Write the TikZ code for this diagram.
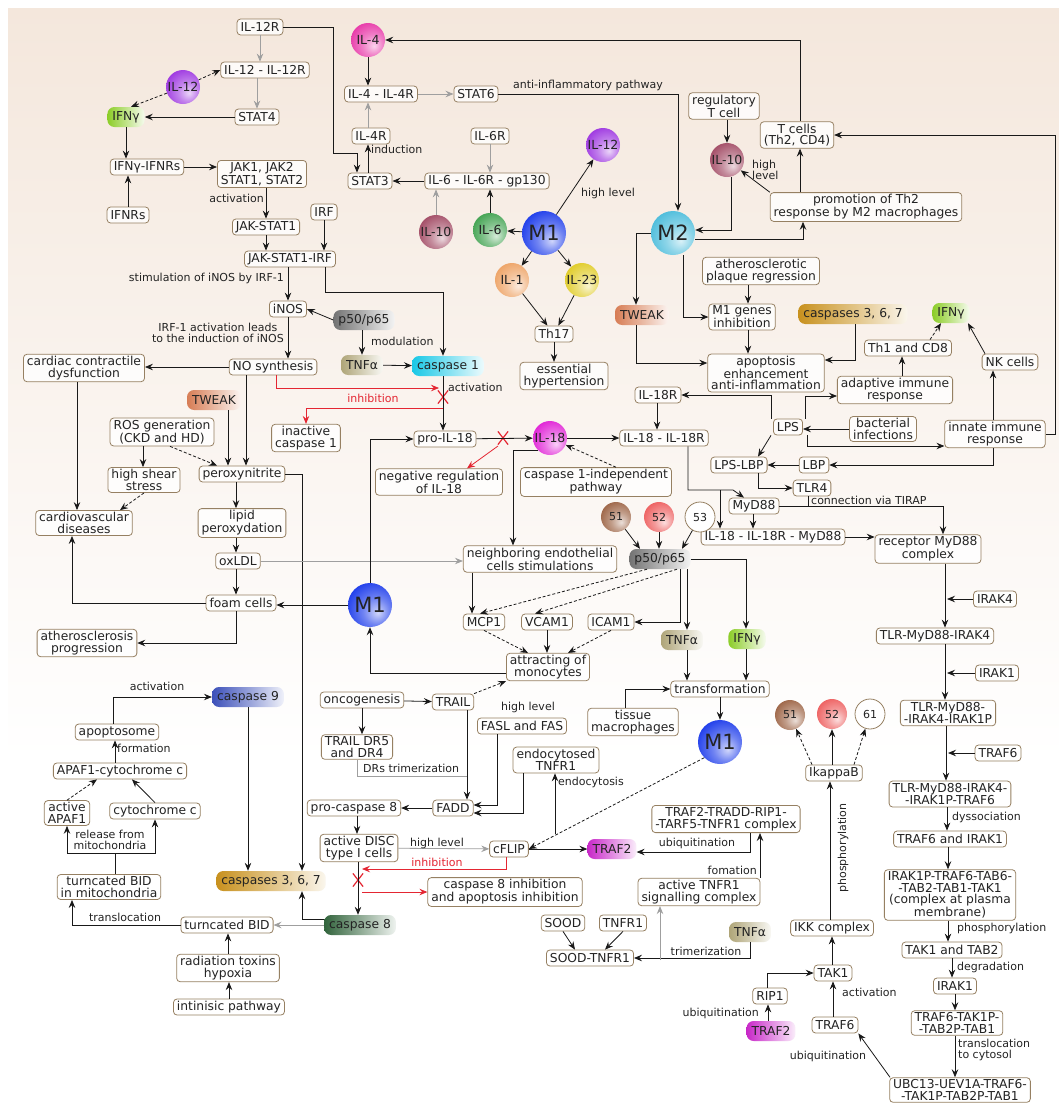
\documentclass[tikz,border=0pt]{standalone}
\usepackage{fontspec}
\setmainfont{DejaVu Sans}
\usetikzlibrary{arrows.meta,shapes.misc}
\definecolor{bxc}{RGB}{150,128,98}
\definecolor{txc}{RGB}{35,35,35}
\definecolor{lnc}{RGB}{25,25,25}
\definecolor{rdc}{RGB}{228,38,50}
\definecolor{bgtop}{RGB}{244,231,220}
\definecolor{cm1}{RGB}{35,65,235}
\definecolor{cm2}{RGB}{80,190,220}
\definecolor{cil4}{RGB}{232,60,170}
\definecolor{cil12}{RGB}{160,60,225}
\definecolor{cil10}{RGB}{165,80,105}
\definecolor{cil6}{RGB}{70,165,85}
\definecolor{cil1}{RGB}{238,165,105}
\definecolor{cil23}{RGB}{225,205,45}
\definecolor{cil18}{RGB}{225,40,215}
\definecolor{c51}{RGB}{160,105,75}
\definecolor{c52}{RGB}{238,100,100}
\definecolor{cifn}{RGB}{140,205,40}
\definecolor{ctwk}{RGB}{215,125,85}
\definecolor{cp65}{RGB}{115,115,115}
\definecolor{ctnf}{RGB}{175,165,120}
\definecolor{ccs1}{RGB}{25,200,230}
\definecolor{ccs3}{RGB}{200,145,30}
\definecolor{ccs9}{RGB}{60,80,185}
\definecolor{ccs8}{RGB}{50,100,60}
\definecolor{ctrf}{RGB}{200,40,200}
\newcommand{\bxf}{\fontsize{12.3}{11.5}\selectfont}
\newcommand{\lbf}{\fontsize{11}{10.5}\selectfont}
\newcommand{\blf}{\fontsize{12.5}{12}\selectfont}
\newcommand{\bigmf}{\fontsize{21}{21}\selectfont}
\colorlet{glowc}{blue}
\pgfdeclareradialshading[glowc]{glow}{\pgfpoint{9bp}{-9bp}}{color(0bp)=(glowc!22);color(15bp)=(glowc!65);color(32bp)=(glowc);color(70bp)=(glowc)}
\tikzset{
  >={Stealth[length=8pt,width=6.5pt,inset=2.8pt]},
  bx/.style={draw=bxc, line width=0.8pt, rounded corners=3.5pt, fill=white, fill opacity=0.8, text opacity=1, text=txc, align=center, inner xsep=3.5pt, inner ysep=2pt, minimum height=16pt, font=\bxf},
  pl/.style={rounded corners=7pt, left color=#1, right color=#1!8, middle color=#1!55, text=txc, inner xsep=5pt, inner ysep=2pt, minimum height=20pt, font=\bxf},
  bl/.style={circle, /utils/exec={\colorlet{glowc}{#1}}, shade, shading=glow, inner sep=0pt, minimum size=34pt, text=txc, font=\blf},
  sbl/.style={bl=#1, minimum size=30pt, font=\lbf},
  bbl/.style={bl=#1, minimum size=44pt, font=\bigmf},
  wc/.style={circle, draw=bxc, line width=0.8pt, fill=white, inner sep=0pt, minimum size=30pt, text=txc, font=\lbf},
  xx/.style={cross out, draw=rdc, line width=1.2pt, minimum width=9pt, minimum height=12pt, inner sep=0pt},
  lb/.style={font=\lbf, text=txc, inner sep=1pt, align=center},
  ar/.style={draw=lnc, line width=0.8pt, ->},
  ag/.style={draw=gray!75, line width=0.8pt, ->},
  ad/.style={ar, densely dashed},
  ared/.style={draw=rdc, line width=0.8pt, ->}
}
\begin{document}
\begin{tikzpicture}[x=1pt,y=-1pt]
\useasboundingbox (0,0) rectangle (1059,1106);
\fill[white] (0,0) rectangle (1059,1106);
\shade[top color=bgtop, bottom color=white] (8,8) rectangle (1059,760);

% interferon branch
\node[bx] (il12r) at (260,27) {IL-12R};
\node[bx] (il12cx) at (265,70) {IL-12 - IL-12R};
\node[bl=cil12] (il12a) at (183,87) {IL-12};
\node[pl=cifn] (ifnga) at (126,117) {IFNγ};
\node[bx] (stat4) at (257,117) {STAT4};
\node[bx] (ifnrs) at (147,167) {IFNγ-IFNRs};
\node[bx] (jak) at (262,174) {JAK1, JAK2\\STAT1, STAT2};
\node[bx] (ifnr) at (128,215) {IFNRs};
\node[bx] (irf) at (324,212) {IRF};
\node[bx] (jakst) at (266,227) {JAK-STAT1};
\node[bx] (jsirf) at (290,259) {JAK-STAT1-IRF};

% IL-4 and IL-6 branch
\node[bl=cil4] (il4) at (368,40) {IL-4};
\node[bx] (il4cx) at (381,94) {IL-4 - IL-4R};
\node[bx] (stat6) at (476,94) {STAT6};
\node[bx] (il4r) at (371,136) {IL-4R};
\node[bx] (stat3) at (370,181) {STAT3};
\node[bx] (il6r) at (490,136) {IL-6R};
\node[bx] (gp130) at (487,181) {IL-6 - IL-6R - gp130};
\node[bl=cil12] (il12b) at (603,145) {IL-12};
\node[bl=cil10] (il10a) at (436,232) {IL-10};
\node[bl=cil6] (il6) at (490,230) {IL-6};
\node[bbl=cm1] (m1a) at (544,233) {M1};
\node[bl=cil1] (il1) at (512,280) {IL-1};
\node[bl=cil23] (il23) at (582,280) {IL-23};
\node[bx] (th17) at (554,334) {Th17};
\node[bx] (ehyp) at (564,376) {essential\\hypertension};

% M2 branch
\node[bbl=cm2] (m2) at (673,233) {M2};
\node[bx] (regt) at (724,106) {regulatory\\T cell};
\node[bx] (tcell) at (797,135) {T cells\\(Th2, CD4)};
\node[bl=cil10] (il10b) at (727,160) {IL-10};
\node[bx] (promo) at (866,207) {promotion of Th2\\response by M2 macrophages};
\node[bx] (plaque) at (761,271) {atherosclerotic\\plaque regression};
\node[pl=ctwk] (tweakb) at (642,315) {TWEAK};
\node[bx] (m1gen) at (742,317) {M1 genes\\inhibition};
\node[pl=ccs3] (casp3a) at (853,314) {caspases 3, 6, 7};
\node[pl=cifn] (ifngb) at (951,313) {IFNγ};
\node[bx] (th1) at (908,348) {Th1 and CD8};
\node[bx] (nk) at (1010,362) {NK cells};
\node[bx] (apop) at (766,373) {apoptosis\\enhancement\\anti-inflammation};
\node[bx] (adapt) at (895,390) {adaptive immune\\response};
\node[bx] (il18r) at (658,395) {IL-18R};
\node[bx] (lps) at (788,427) {LPS};
\node[bx] (bact) at (883,429) {bacterial\\infections};
\node[bx] (innate) at (995,434) {innate immune\\response};
\node[bx] (il18cx) at (664,438) {IL-18 - IL-18R};
\node[bx] (lpslbp) at (739,465) {LPS-LBP};
\node[bx] (lbp) at (814,465) {LBP};
\node[bx] (tlr4) at (812,488) {TLR4};
\node[bx] (myd88) at (754,506) {MyD88};
\node[bx] (il18my) at (773,537) {IL-18 - IL-18R - MyD88};
\node[bx] (recmy) at (928,549) {receptor MyD88\\complex};

% NO and atherosclerosis
\node[bx] (inos) at (288,309) {iNOS};
\node[pl=cp65] (p65a) at (364,320) {p50/p65};
\node[pl=ctnf] (tnfa) at (362,365) {TNFα};
\node[pl=ccs1] (casp1) at (448,366) {caspase 1};
\node[bx] (nosyn) at (273,367) {NO synthesis};
\node[bx] (cardiac) at (84,368) {cardiac contractile\\dysfunction};
\node[pl=ctwk] (tweaka) at (214,400) {TWEAK};
\node[bx] (inact) at (306,438) {inactive\\caspase 1};
\node[bx] (ros) at (162,432) {ROS generation\\(CKD and HD)};
\node[bx] (shear) at (144,480) {high shear\\stress};
\node[bx] (perox) at (242,474) {peroxynitrite};
\node[bx] (cvd) at (84,523) {cardiovascular\\diseases};
\node[bx] (lipid) at (242,523) {lipid\\peroxydation};
\node[bx] (oxldl) at (238,561) {oxLDL};
\node[bx] (foam) at (241,603) {foam cells};
\node[bx] (athero) at (87,643) {atherosclerosis\\progression};

% IL-18 and NF-kB
\node[bx] (proil18) at (445,439) {pro-IL-18};
\node[bl=cil18] (il18) at (550,438) {IL-18};
\node[bx] (negreg) at (439,482) {negative regulation\\of IL-18};
\node[bx] (c1ind) at (596,482) {caspase 1-independent\\pathway};
\node[sbl=c51] (n51a) at (616,517) {51};
\node[sbl=c52] (n52a) at (659,517) {52};
\node[wc] (n53) at (700,517) {53};
\node[bx] (neigh) at (540,559) {neighboring endothelial\\cells stimulations};
\node[pl=cp65] (p65b) at (660,559) {p50/p65};
\node[bbl=cm1] (m1b) at (370,605) {M1};
\node[bx] (mcp1) at (484,622) {MCP1};
\node[bx] (vcam) at (547,622) {VCAM1};
\node[bx] (icam) at (611,622) {ICAM1};
\node[pl=ctnf] (tnfb) at (682,640) {TNFα};
\node[pl=cifn] (ifngc) at (747,639) {IFNγ};
\node[bx] (attr) at (548,667) {attracting of\\monocytes};
\node[bx] (transf) at (720,689) {transformation};
\node[bx] (tissue) at (633,722) {tissue\\macrophages};
\node[bbl=cm1] (m1c) at (720,742) {M1};

% intrinsic apoptosis
\node[pl=ccs9] (casp9) at (248,697) {caspase 9};
\node[bx] (apsome) at (117,732) {apoptosome};
\node[bx] (apaf) at (120,771) {APAF1-cytochrome c};
\node[bx] (aapaf) at (67,813) {active\\APAF1};
\node[bx] (cytc) at (155,811) {cytochrome c};
\node[bx] (bidm) at (109,887) {turncated BID\\in mitochondria};
\node[pl=ccs3] (casp3b) at (271,881) {caspases 3, 6, 7};
\node[bx] (bid) at (227,925) {turncated BID};
\node[pl=ccs8] (casp8) at (360,925) {caspase 8};
\node[bx] (rad) at (228,968) {radiation toxins\\hypoxia};
\node[bx] (intr) at (229,1007) {intinisic pathway};

% extrinsic apoptosis
\node[bx] (oncog) at (362,700) {oncogenesis};
\node[bx] (trail) at (453,702) {TRAIL};
\node[bx] (trdr) at (357,747) {TRAIL DR5\\and DR4};
\node[bx] (fasl) at (522,726) {FASL and FAS};
\node[bx] (endo) at (556,760) {endocytosed\\TNFR1};
\node[bx] (procasp8) at (354,808) {pro-caspase 8};
\node[bx] (fadd) at (453,808) {FADD};
\node[bx] (disc) at (359,848) {active DISC\\type I cells};
\node[bx] (cflip) at (509,849) {cFLIP};
\node[pl=ctrf] (traf2a) at (612,849) {TRAF2};
\node[bx] (tradd) at (726,819) {TRAF2-TRADD-RIP1-\\-TARF5-TNFR1 complex};
\node[bx] (c8inh) at (505,892) {caspase 8 inhibition\\and apoptosis inhibition};
\node[bx] (atnfr) at (699,892) {active TNFR1\\signalling complex};
\node[bx] (sood) at (563,923) {SOOD};
\node[bx] (tnfr1) at (623,923) {TNFR1};
\node[bx] (soodt) at (590,958) {SOOD-TNFR1};
\node[pl=ctnf] (tnfc) at (750,932) {TNFα};
\coordinate (endoc) at (555,834);

% IKK and TAK1
\node[sbl=c51] (n51b) at (790,715) {51};
\node[sbl=c52] (n52b) at (832,714) {52};
\node[wc] (n61) at (870,714) {61};
\node[bx] (ikb) at (834,773) {IkappaB};
\node[bx] (ikk) at (832,928) {IKK complex};
\node[bx] (tak1) at (833,973) {TAK1};
\node[bx] (rip1) at (770,996) {RIP1};
\node[pl=ctrf] (traf2b) at (771,1031) {TRAF2};
\node[bx] (traf6a) at (835,1025) {TRAF6};
\node[bx] (ubc) at (960,1090) {UBC13-UEV1A-TRAF6-\\-TAK1P-TAB2P-TAB1};

% MyD88 cascade
\node[bx] (irak4) at (995,599) {IRAK4};
\node[bx] (tmi4) at (935,636) {TLR-MyD88-IRAK4};
\node[bx] (irak1a) at (997,673) {IRAK1};
\node[bx] (tmi1) at (948,713) {TLR-MyD88-\\-IRAK4-IRAK1P};
\node[bx] (traf6b) at (998,753) {TRAF6};
\node[bx] (tmi6) at (950,794) {TLR-MyD88-IRAK4-\\-IRAK1P-TRAF6};
\node[bx] (t6i1) at (950,839) {TRAF6 and IRAK1};
\node[bx] (irakx) at (950,895) {IRAK1P-TRAF6-TAB6-\\-TAB2-TAB1-TAK1\\(complex at plasma\\membrane)};
\node[bx] (tak2) at (952,950) {TAK1 and TAB2};
\node[bx] (irak1b) at (955,986) {IRAK1};
\node[bx] (t6tak) at (957,1023) {TRAF6-TAK1P-\\-TAB2P-TAB1};

% red crosses
\node[xx] (xa) at (443,397) {};
\node[xx] (xb) at (503,438) {};
\node[xx] (xc) at (358,880) {};

% links, interferon branch
\draw[ag] (il12r) -- (il12r |- il12cx.north);
\draw[ad] (il12a) -- (il12cx.west);
\draw[ad] (il12a) -- ([xshift=5pt]ifnga.north);
\draw[ag] (stat4 |- il12cx.south) -- (stat4);
\draw[ar] (stat4) -- (ifnga);
\draw[ar] (ifnga) -- (ifnga |- ifnrs.north);
\draw[ar] (ifnr) -- (ifnr |- ifnrs.south);
\draw[ar] (ifnrs.east) -- (ifnrs.east -| jak.west);
\draw[ar] (jakst |- jak.south) -- (jakst);
\draw[ar] (jakst) -- (jakst |- jsirf.north);
\draw[ar] (irf) -- (irf |- jsirf.north);
\draw[ar] (il12r.east) -| (333,153) -| ([xshift=-13pt]stat3.north);
\draw[ar] (inos |- jsirf.south) -- (inos);
\draw[ar] (325,0 |- jsirf.south) |- (443,292) -- (443,0 |- casp1.north);

% links, IL-4 and IL-6
\draw[ar] (il4) -- (il4 |- il4cx.north);
\draw[ag] (il4cx) -- (stat6);
\draw[ar] (stat6.east) -| ([xshift=5pt]m2.north);
\draw[ag] (368,0 |- il4r.north) -- (368,0 |- il4cx.south);
\draw[ar] (368,0 |- stat3.north) -- (368,0 |- il4r.south);
\draw[ag] (il6r) -- (il6r |- gp130.north);
\draw[ar] (gp130) -- (stat3);
\draw[ag] (il10a) -- (il10a |- gp130.south);
\draw[ar] (il6) -- (il6 |- gp130.south);
\draw[ar] (m1a) -- (il6);
\draw[ar] (m1a) -- (il12b);
\draw[ar] (m1a) -- (il1);
\draw[ar] (m1a) -- (il23);
\draw[ar] (il1) -- (th17);
\draw[ar] (il23) -- (th17);
\draw[ar] (th17) -- (th17 |- ehyp.north);

% links, M2 branch
\draw[ar] (800,0 |- tcell.north) |- (il4);
\draw[ar] (il10b |- regt.south) -- (il10b);
\draw[ar] (731,0 |- il10b.south) |- ([yshift=3pt]m2.east);
\draw[ar] ([yshift=-6pt]m2.east) -| (803,0 |- promo.south);
\draw[ar] (promo.north west) -- (il10b);
\draw[ar] (800,0 |- promo.north) -- (800,0 |- tcell.south);
\draw[ar] (innate.east) -| (1055,0 |- tcell.east) -- (tcell.east);
\draw[ar] (m2.west) -| ([xshift=-6pt]tweakb.north);
\draw[ar] ([xshift=10pt]m2.south) |- (m1gen.west);
\draw[ar] ([xshift=-6pt]tweakb.south) |- ([yshift=10pt]apop.west);
\draw[ar] (748,0 |- plaque.south) -- (748,0 |- m1gen.north);
\draw[ar] (748,0 |- m1gen.south) -- (748,0 |- apop.north);
\draw[ar] (855,0 |- casp3a.south) |- ([yshift=13pt]apop.east);
\draw[ad] ([xshift=22pt]th1.north) -- ([xshift=-10pt]ifngb.south);
\draw[ar] ([xshift=-25pt]nk.north) -- ([xshift=17pt]ifngb.south);
\draw[ar] (902,0 |- adapt.north) -- (902,0 |- th1.south);
\draw[ar] (993,0 |- innate.north) -- (993,0 |- nk.south);
\draw[ar] (bact.west) -- (bact.west -| lps.east);
\draw[ar] (771,0 |- lps.north) |- (il18r.east);
\draw[ar] (805,0 |- lps.north) |- ([yshift=-6pt]adapt.west);
\draw[ar] (807,0 |- lps.south) |- ([yshift=-12pt]innate.west);
\draw[ar] ([xshift=-17pt]lps.south) -- ([xshift=19pt]lpslbp.north);
\draw[ar] (lbp) -- (lpslbp);
\draw[ar] (993,0 |- innate.south) |- (lbp.east);
\draw[ar] ([xshift=19pt]lpslbp.south) |- (tlr4.west);
\draw[lnc, line width=0.8pt] (808,0 |- tlr4.south) -- (808,0 |- myd88.east);
\draw[ar] (myd88.east) -| (943,0 |- recmy.north);
\draw[ar] (688,0 |- il18cx.south) |- (733,490) -- ([xshift=-10pt]myd88.north);
\draw[ar] (720,490) -- (720,0 |- il18my.north);
\draw[ar] (753,0 |- myd88.south) -- (753,0 |- il18my.north);
\draw[ar] (il18my.east) -- (il18my.east -| recmy.west);
\draw[ar] (657,0 |- il18r.south) -- (657,0 |- il18cx.north);

% links, NO and atherosclerosis
\draw[ar] (p65a.west) -- (inos.east);
\draw[ar] (tnfa |- p65a.south) -- (tnfa);
\draw[ar] (tnfa) -- (casp1);
\draw[ar] (inos) -- (inos |- nosyn.north);
\draw[ar] (nosyn.west) -- (nosyn.west -| cardiac.east);
\draw[ared] ([xshift=3pt]nosyn.south) |- (439,388);
\draw[ared] (443,408) -| (inact.north);
\draw[ar] (443,0 |- casp1.south) -- (443,0 |- proil18.north);
\draw[ar] (246,0 |- nosyn.south) -- (246,0 |- perox.north);
\draw[ar] (228,0 |- tweaka.south) -- (228,0 |- perox.north);
\draw[ad] ([xshift=8pt]ros.south) -- ([xshift=-25pt]perox.north);
\draw[ar] (143,0 |- ros.south) -- (143,0 |- shear.north);
\draw[ar] (77,0 |- cardiac.south) -- (77,0 |- cvd.north);
\draw[ad] (shear.south) -- ([xshift=36pt]cvd.north);
\draw[ar] (236,0 |- perox.south) -- (236,0 |- lipid.north);
\draw[ar] (perox.east) -| (302,0 |- casp3b.north);
\draw[ar] (236,0 |- lipid.south) -- (236,0 |- oxldl.north);
\draw[ag] (oxldl.east) -- (oxldl.east -| neigh.west);
\draw[ar] (236,0 |- oxldl.south) -- (236,0 |- foam.north);
\draw[ar] (m1b.west) -- (m1b.west -| foam.east);
\draw[ar] (foam.west) -| (72,0 |- cvd.south);
\draw[ar] (236,0 |- foam.south) |- (athero.east);

% links, IL-18 and NF-kB
\draw[ar] (proil18) -- (il18);
\draw[ared] (498,446) -- ([xshift=28pt]negreg.north);
\draw[ad] ([xshift=20pt]c1ind.north) -- (il18);
\draw[ar] (il18) -- (il18cx);
\draw[ar] (il18.south west) -| (513,0 |- neigh.north);
\draw[ar] (m1b.north) |- (proil18.west);
\draw[ar] (n51a) -- ([xshift=-20pt]p65b.north);
\draw[ar] (n52a) -- (n52a |- p65b.north);
\draw[ar] (n53) -- ([xshift=22pt]p65b.north);
\draw[ar] (472,0 |- neigh.south) -- (472,0 |- mcp1.north);
\draw[ad] ([xshift=-13pt]p65b.south) -- ([xshift=-4pt]mcp1.north);
\draw[ad] ([xshift=17pt]p65b.south) -- ([xshift=-12pt]vcam.north);
\draw[ar] (680,0 |- p65b.south) |- (icam.east);
\draw[ar] (687,0 |- p65b.south) -- (687,0 |- tnfb.north);
\draw[ar] (p65b.east) -| (746,0 |- ifngc.north);
\draw[ad] (mcp1.south) -- ([xshift=-20pt]attr.north);
\draw[ar] (vcam) -- (vcam |- attr.north);
\draw[ad] (icam.south) -- ([xshift=20pt]attr.north);
\draw[ar] ([yshift=-6pt]attr.west) -| (m1b.south);
\draw[ar] (687,0 |- tnfb.south) -- (687,0 |- transf.north);
\draw[ar] (746,0 |- ifngc.south) -- (746,0 |- transf.north);
\draw[ar] (625,0 |- tissue.north) |- (transf.west);
\draw[ar] (transf.south) -- (m1c.north);
\draw[ad] (m1c.south west) -- (cflip.east);

% links, intrinsic apoptosis
\draw[ar] (113,0 |- apsome.north) |- (casp9.west);
\draw[ar] (115,0 |- apaf.north) -- (115,0 |- apsome.south);
\draw[ad] (aapaf.north) -- ([xshift=-23pt]apaf.south);
\draw[ar] (cytc.north) -- ([xshift=12pt]apaf.south);
\draw[ar] (115,0 |- bidm.north) -- (115,853) -| (aapaf.south);
\draw[ar] (115,853) -| (cytc.south);
\draw[ar] (248,0 |- casp9.south) -- (248,0 |- casp3b.north);
\draw[ar] ([yshift=6pt]casp8.west) -| (302,0 |- casp3b.south);
\draw[ag] (casp8) -- (bid);
\draw[ar] (bid.west) -| (72,0 |- bidm.south);
\draw[ar] (rad.north) -- (rad.north |- bid.south);
\draw[ar] (intr.north) -- (intr.north |- rad.south);

% links, extrinsic apoptosis
\draw[ar] (oncog) -- (trail);
\draw[ad] (trail.north east) -- (attr.south west);
\draw[ar] (362,0 |- oncog.south) -- (362,0 |- trdr.north);
\draw[ar] (467,0 |- trail.south) -- (467,0 |- fadd.north);
\draw[gray!75, line width=0.8pt] (357,0 |- trdr.south) |- (467,776);
\draw[ar] (497,0 |- fasl.south) |- ([yshift=3pt]fadd.east);
\draw[ar] (523,0 |- endo.south) |- ([yshift=-5pt]fadd.east);
\draw[ar] (endoc) -- (endoc |- endo.south);
\draw[ar] (fadd) -- (procasp8);
\draw[ar] (357,0 |- procasp8.south) -- (357,0 |- disc.north);
\draw[ag] (disc) -- (cflip);
\draw[ar] (cflip) -- (traf2a);
\draw[ar] (750,0 |- tradd.south) |- ([yshift=-3pt]traf2a.east);
\draw[ared] ([xshift=-3pt]cflip.south) |- (362,869);
\draw[ar] (358,0 |- disc.south) -- (358,0 |- casp8.north);
\draw[ared] (362,892) -- (c8inh.west);
\draw[ar] (sood.south) -- ([xshift=-15pt]soodt.north);
\draw[ar] (tnfr1.south) -- ([xshift=15pt]soodt.north);
\draw[ar] (750,0 |- tnfc.south) |- (soodt.east);
\draw[ag] (660,960) -- (660,0 |- atnfr.south);
\draw[ar] (760,0 |- atnfr.north) -- (760,0 |- tradd.south);

% links, IKK and TAK1
\draw[ad] ([xshift=-22pt]ikb.north) -- (n51b);
\draw[ar] (832,0 |- ikb.north) -- (n52b);
\draw[ad] ([xshift=20pt]ikb.north) -- (n61);
\draw[ar] (830,0 |- ikk.north) -- (830,0 |- ikb.south);
\draw[ar] (832,0 |- tak1.north) -- (832,0 |- ikk.south);
\draw[ar] (767,0 |- rip1.north) |- (tak1.west);
\draw[ar] (768,0 |- traf2b.north) -- (768,0 |- rip1.south);
\draw[ar] (833,0 |- traf6a.north) -- (833,0 |- tak1.south);
\draw[ar] ([xshift=-70pt]ubc.north) -- (traf6a.south east);

% links, MyD88 cascade
\draw[ar] (945,0 |- recmy.south) -- (945,0 |- tmi4.north);
\draw[ar] (irak4.west) -- (947,0 |- irak4.west);
\draw[ar] (945,0 |- tmi4.south) -- (945,0 |- tmi1.north);
\draw[ar] (irak1a.west) -- (947,0 |- irak1a.west);
\draw[ar] (946,0 |- tmi1.south) -- (946,0 |- tmi6.north);
\draw[ar] (traf6b.west) -- (948,0 |- traf6b.west);
\draw[ar] (947,0 |- tmi6.south) -- (947,0 |- t6i1.north);
\draw[ar] (948,0 |- t6i1.south) -- (948,0 |- irakx.north);
\draw[ar] (948,0 |- irakx.south) -- (948,0 |- tak2.north);
\draw[ar] (952,0 |- tak2.south) -- (952,0 |- irak1b.north);
\draw[ar] (955,0 |- irak1b.south) -- (955,0 |- t6tak.north);
\draw[ar] (955,0 |- t6tak.south) -- (955,0 |- ubc.north);

% labels
\node[lb, anchor=east] (lba) at (265,198) {activation};
\node[lb, anchor=east] (lbb) at (285,278) {stimulation of iNOS by IRF-1};
\node[lb, anchor=east] (lbc) at (285,333) {IRF-1 activation leads\\to the induction of iNOS};
\node[lb, anchor=west] (lbd) at (370,341) {modulation};
\node[lb, anchor=west] (lbe) at (447,387) {activation};
\node[lb, text=rdc] (lbf) at (373,398) {inhibition};
\node[lb] (lbg) at (588,85) {anti-inflammatory pathway};
\node[lb, anchor=west] (lbh) at (370,149) {induction};
\node[lb, anchor=west] (lbi) at (580,193) {high level};
\node[lb, anchor=west, align=left] (lbj) at (751,170) {high\\level};
\node[lb, anchor=south west] (lbk) at (810,506) {connection via TIRAP};
\node[lb, anchor=west] (lbl) at (116,748) {formation};
\node[lb] (lbm) at (157,686) {activation};
\node[lb] (lbn) at (110,840) {release from\\mitochondria};
\node[lb] (lbo) at (125,917) {translocation};
\node[lb, anchor=west] (lbp) at (362,768) {DRs trimerization};
\node[lb] (lbq) at (528,707) {high level};
\node[lb, anchor=west] (lbr) at (557,782) {endocytosis};
\node[lb] (lbs) at (437,843) {high level};
\node[lb, text=rdc] (lbt) at (437,862) {inhibition};
\node[lb] (lbu) at (697,843) {ubiquitination};
\node[lb, anchor=east] (lbv) at (758,870) {fomation};
\node[lb] (lbw) at (706,951) {trimerization};
\node[lb, rotate=90] (lbx) at (843,848) {phosphorylation};
\node[lb, anchor=west] (lby) at (841,992) {activation};
\node[lb, anchor=east] (lbz) at (760,1013) {ubiquitination};
\node[lb] (lbaa) at (828,1056) {ubiquitination};
\node[lb, anchor=west] (lbab) at (951,817) {dyssociation};
\node[lb, anchor=west] (lbac) at (956,928) {phosphorylation};
\node[lb, anchor=west] (lbad) at (956,967) {degradation};
\node[lb, anchor=west, align=left] (lbae) at (957,1050) {translocation\\to cytosol};
\end{tikzpicture}
\end{document}
